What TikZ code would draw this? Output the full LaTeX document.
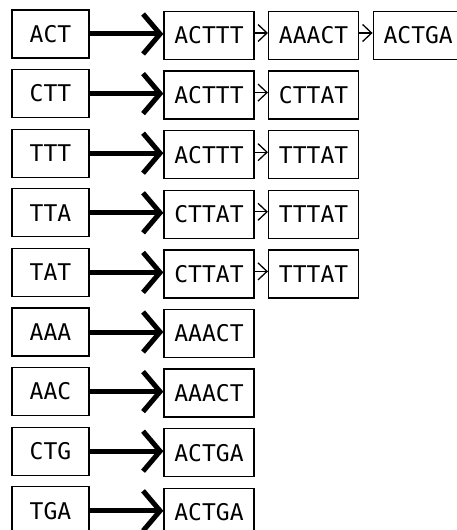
\documentclass[tikz,border=0pt]{standalone}
\usepackage{fontspec}
\setmonofont{DejaVu Sans Mono}
\usetikzlibrary{arrows.meta}
\begin{document}
\begin{tikzpicture}[x=1bp,y=-1bp,
  kmer/.style={draw, line width=1.3bp, minimum width=77bp, minimum height=48bp,
    inner sep=0pt, font=\ttfamily\fontsize{23bp}{23bp}\selectfont},
  readbox/.style={kmer, minimum width=90bp},
  mapsto/.style={line width=5bp, -{Straight Barb[length=17bp, width=40bp]}},
  link/.style={line width=1.3bp, -{Straight Barb[length=9bp, width=17bp]}}]
\useasboundingbox (0,0) rectangle (457,530);
\clip (0,0) rectangle (457,530);
% each k-mer maps to the list of reads that contain it
\foreach \kmer/\reads [count=\i from 0] in {
    ACT/{ACTTT,AAACT,ACTGA},
    CTT/{ACTTT,CTTAT},
    TTT/{ACTTT,TTTAT},
    TTA/{CTTAT,TTTAT},
    TAT/{CTTAT,TTTAT},
    AAA/{AAACT},
    AAC/{AAACT},
    CTG/{ACTGA},
    TGA/{ACTGA}} {
  \node[kmer] (k\i) at (50.5, {34+59.6*\i}) {\kmer};
  \foreach \r [count=\j] in \reads {
    \node[readbox] (r\i-\j) at ({209+104.6*(\j-1)}, {35.5+59.6*\i}) {\r};
    \ifnum\j=1
      \draw[mapsto] (k\i.east) -- (r\i-1.west |- k\i.east);
    \else
      \pgfmathtruncatemacro{\pj}{\j-1}
      \draw[link] ([yshift=1bp]r\i-\pj.east |- k\i.east) -- ([yshift=1bp]r\i-\j.west |- k\i.east);
    \fi
  }
}
\end{tikzpicture}
\end{document}
